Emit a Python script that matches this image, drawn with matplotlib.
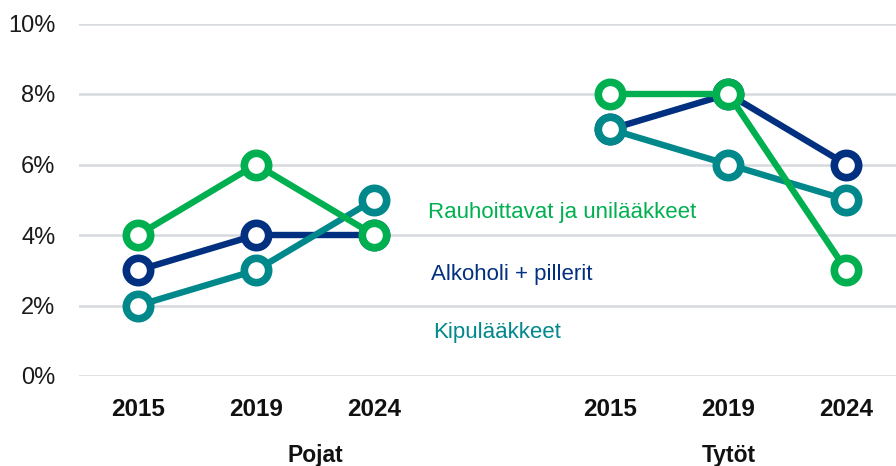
import matplotlib.pyplot as plt
import numpy as np

plt.rcParams['font.family'] = ['Liberation Sans', 'DejaVu Sans']

years = ['2015', '2019', '2024']
groups = ['Pojat', 'Tytöt']

# percentages, Pojat then Tytöt
rauhoittavat = [4, 6, 4, 8, 8, 3]
alkoholi = [3, 4, 4, 7, 8, 6]
kipu = [2, 3, 5, 7, 6, 5]

names = ['Alkoholi + pillerit', 'Kipulääkkeet', 'Rauhoittavat ja unilääkkeet']
colors = ['#00307F', '#00888B', '#00B050']

x = np.array([0, 1, 2, 4, 5, 6])

fig, ax = plt.subplots(figsize=(8.96, 4.66), dpi=100)
fig.subplots_adjust(left=79/896, right=1.0, bottom=90/466, top=(466-23.5)/466)

for vals, c in zip([alkoholi, kipu, rauhoittavat], colors):
    vals = np.array(vals, dtype=float)
    for part in (slice(0, 3), slice(3, 6)):
        ax.plot(x[part], vals[part], color=c, lw=4.6, marker='o', ms=17.5,
                mew=5.5, mfc='white', mec=c, solid_capstyle='round')

# inline series labels
ax.text(2.46, 4.65, names[2], color=colors[2], fontsize=16, va='center', ha='left')
ax.text(2.48, 2.87, names[0], color=colors[0], fontsize=16, va='center', ha='left')
ax.text(2.50, 1.22, names[1], color=colors[1], fontsize=16, va='center', ha='left')

ax.set_ylim(0, 10)
ax.set_xlim(-0.5, 6.42)
ax.set_yticks(range(0, 11, 2))
ax.set_yticklabels([f'{v}%' for v in range(0, 11, 2)], fontsize=17, color='#1a1a1a')
ax.set_xticks(x)
ax.set_xticklabels(years * 2, fontsize=17.5, fontweight='bold', color='#111111')
ax.tick_params(axis='both', length=0)
ax.tick_params(axis='y', pad=17)
ax.tick_params(axis='x', pad=16)

ax.grid(axis='y', color='#D6D9DD', lw=1.8)
ax.set_axisbelow(True)
for s in ax.spines.values():
    s.set_visible(False)

trans = ax.get_xaxis_transform()
ax.text(1.5, -0.225, groups[0], transform=trans, ha='center', va='center',
        fontsize=16.5, fontweight='bold', color='#111111')
ax.text(5.0, -0.225, groups[1], transform=trans, ha='center', va='center',
        fontsize=16.5, fontweight='bold', color='#111111')

plt.savefig('out.png', dpi=100)
